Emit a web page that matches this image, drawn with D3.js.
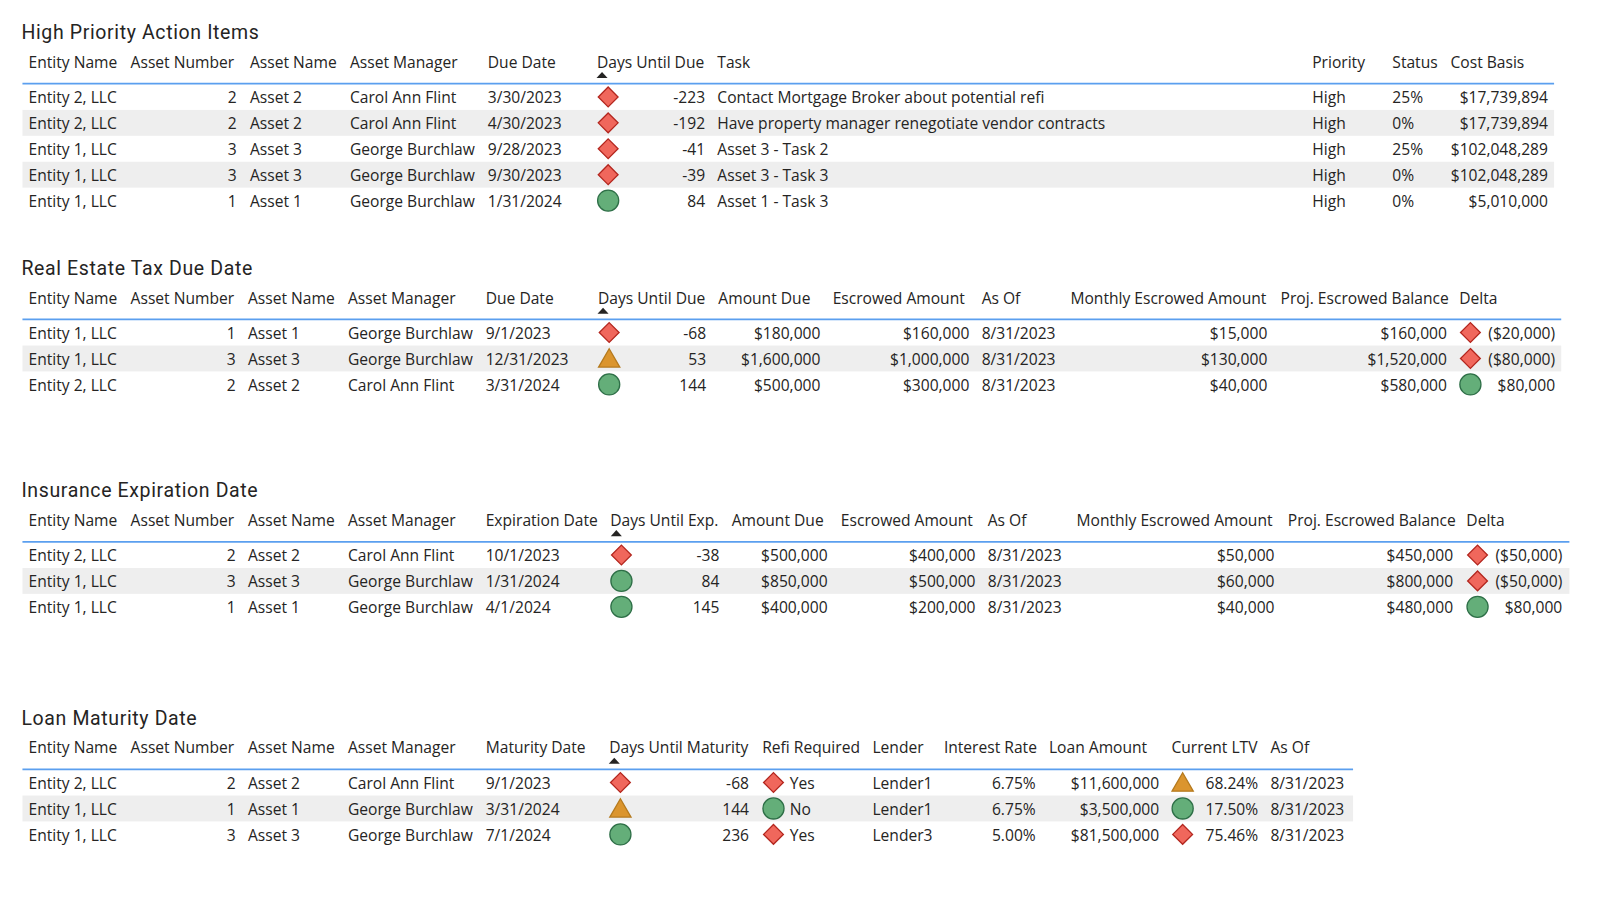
<!DOCTYPE html>
<html><head><meta charset="utf-8">
<script src="https://cdn.jsdelivr.net/npm/d3@7/dist/d3.min.js"></script>
<style>html,body{margin:0;background:#fff}svg{display:block}text{font-family:"Open Sans",sans-serif;fill:#252423}</style>
</head><body><svg id="c" width="1600" height="912"></svg>
<script>
// ---------- data ----------
const entities1 = ["Entity 2, LLC","Entity 2, LLC","Entity 1, LLC","Entity 1, LLC","Entity 1, LLC"];
const numbers1 = [2,2,3,3,1];
const assets1 = ["Asset 2","Asset 2","Asset 3","Asset 3","Asset 1"];
const managers1 = ["Carol Ann Flint","Carol Ann Flint","George Burchlaw","George Burchlaw","George Burchlaw"];
const dates1 = ["3/30/2023","4/30/2023","9/28/2023","9/30/2023","1/31/2024"];
const days1 = [-223,-192,-41,-39,84];
const dayIcons1 = ["d","d","d","d","c"];
const tasks1 = ["Contact Mortgage Broker about potential refi","Have property manager renegotiate vendor contracts","Asset 3 - Task 2","Asset 3 - Task 3","Asset 1 - Task 3"];
const priority1 = ["High","High","High","High","High"];
const status1 = ["25%","0%","25%","0%","0%"];
const costBasis1 = ["$17,739,894","$17,739,894","$102,048,289","$102,048,289","$5,010,000"];

const entities2 = ["Entity 1, LLC","Entity 1, LLC","Entity 2, LLC"];
const numbers2 = [1,3,2];
const assets2 = ["Asset 1","Asset 3","Asset 2"];
const managers2 = ["George Burchlaw","George Burchlaw","Carol Ann Flint"];
const dates2 = ["9/1/2023","12/31/2023","3/31/2024"];
const days2 = [-68,53,144];
const dayIcons2 = ["d","t","c"];
const due2 = ["$180,000","$1,600,000","$500,000"];
const escrowed2 = ["$160,000","$1,000,000","$300,000"];
const asOf2 = ["8/31/2023","8/31/2023","8/31/2023"];
const monthly2 = ["$15,000","$130,000","$40,000"];
const proj2 = ["$160,000","$1,520,000","$580,000"];
const deltaIcons2 = ["d","d","c"];
const delta2 = ["($20,000)","($80,000)","$80,000"];

const entities3 = ["Entity 2, LLC","Entity 1, LLC","Entity 1, LLC"];
const numbers3 = [2,3,1];
const assets3 = ["Asset 2","Asset 3","Asset 1"];
const managers3 = ["Carol Ann Flint","George Burchlaw","George Burchlaw"];
const dates3 = ["10/1/2023","1/31/2024","4/1/2024"];
const days3 = [-38,84,145];
const dayIcons3 = ["d","c","c"];
const due3 = ["$500,000","$850,000","$400,000"];
const escrowed3 = ["$400,000","$500,000","$200,000"];
const asOf3 = ["8/31/2023","8/31/2023","8/31/2023"];
const monthly3 = ["$50,000","$60,000","$40,000"];
const proj3 = ["$450,000","$800,000","$480,000"];
const deltaIcons3 = ["d","d","c"];
const delta3 = ["($50,000)","($50,000)","$80,000"];

const entities4 = ["Entity 2, LLC","Entity 1, LLC","Entity 1, LLC"];
const numbers4 = [2,1,3];
const assets4 = ["Asset 2","Asset 1","Asset 3"];
const managers4 = ["Carol Ann Flint","George Burchlaw","George Burchlaw"];
const dates4 = ["9/1/2023","3/31/2024","7/1/2024"];
const days4 = [-68,144,236];
const dayIcons4 = ["d","t","c"];
const refiIcons4 = ["d","c","d"];
const refi4 = ["Yes","No","Yes"];
const lender4 = ["Lender1","Lender1","Lender3"];
const rate4 = ["6.75%","6.75%","5.00%"];
const loan4 = ["$11,600,000","$3,500,000","$81,500,000"];
const ltvIcons4 = ["t","c","d"];
const ltv4 = ["68.24%","17.50%","75.46%"];
const asOf4 = ["8/31/2023","8/31/2023","8/31/2023"];

// ---------- layout (h: header x, v: value x, a: value anchor, m: marker x) ----------
const tables = [
 {title:"High Priority Action Items", titleY:31.5, headY:61.2, lineY:82, lineEnd:1523, rowTop:82.3, rowH:25.4, arrowX:590, cols:[
  {n:"Entity Name",h:28,v:28,d:entities1},{n:"Asset Number",h:128,v:232,a:"end",d:numbers1},{n:"Asset Name",h:245,v:245,d:assets1},
  {n:"Asset Manager",h:343,v:343,d:managers1},{n:"Due Date",h:478,v:478,d:dates1},
  {n:"Days Until Due",h:585,v:691,a:"end",d:days1,icons:dayIcons1,m:596},{n:"Task",h:703,v:703,d:tasks1},
  {n:"Priority",h:1286,v:1286,d:priority1},{n:"Status",h:1364.5,v:1364.5,d:status1},{n:"Cost Basis",h:1421.5,v:1517,a:"end",d:costBasis1}]},
 {title:"Real Estate Tax Due Date", titleY:262.5, headY:292.2, lineY:313, lineEnd:1530, rowTop:313.2, rowH:25.4, arrowX:591, cols:[
  {n:"Entity Name",h:28,v:28,d:entities2},{n:"Asset Number",h:128,v:231,a:"end",d:numbers2},{n:"Asset Name",h:243,v:243,d:assets2},
  {n:"Asset Manager",h:341,v:341,d:managers2},{n:"Due Date",h:476,v:476,d:dates2},
  {n:"Days Until Due",h:586,v:692,a:"end",d:days2,icons:dayIcons2,m:597},{n:"Amount Due",h:704,v:804,a:"end",d:due2},
  {n:"Escrowed Amount",h:816,v:950,a:"end",d:escrowed2},{n:"As Of",h:962,v:962,d:asOf2},
  {n:"Monthly Escrowed Amount",h:1049,v:1242,a:"end",d:monthly2},{n:"Proj. Escrowed Balance",h:1255,v:1418,a:"end",d:proj2},
  {n:"Delta",h:1430,v:1524,a:"end",d:delta2,icons:deltaIcons2,m:1441}]},
 {title:"Insurance Expiration Date", titleY:480.5, headY:510.2, lineY:531, lineEnd:1538, rowTop:531.2, rowH:25.4, arrowX:604, cols:[
  {n:"Entity Name",h:28,v:28,d:entities3},{n:"Asset Number",h:128,v:231,a:"end",d:numbers3},{n:"Asset Name",h:243,v:243,d:assets3},
  {n:"Asset Manager",h:341,v:341,d:managers3},{n:"Expiration Date",h:476,v:476,d:dates3},
  {n:"Days Until Exp.",h:598,v:705,a:"end",d:days3,icons:dayIcons3,m:609},{n:"Amount Due",h:717,v:811,a:"end",d:due3},
  {n:"Escrowed Amount",h:824,v:956,a:"end",d:escrowed3},{n:"As Of",h:968,v:968,d:asOf3},
  {n:"Monthly Escrowed Amount",h:1055,v:1249,a:"end",d:monthly3},{n:"Proj. Escrowed Balance",h:1262,v:1424,a:"end",d:proj3},
  {n:"Delta",h:1437,v:1531,a:"end",d:delta3,icons:deltaIcons3,m:1448}]},
 {title:"Loan Maturity Date", titleY:703.5, headY:732.2, lineY:754, lineEnd:1326, rowTop:754.2, rowH:25.4, arrowX:602, cols:[
  {n:"Entity Name",h:28,v:28,d:entities4},{n:"Asset Number",h:128,v:231,a:"end",d:numbers4},{n:"Asset Name",h:243,v:243,d:assets4},
  {n:"Asset Manager",h:341,v:341,d:managers4},{n:"Maturity Date",h:476,v:476,d:dates4},
  {n:"Days Until Maturity",h:597,v:734,a:"end",d:days4,icons:dayIcons4,m:608},
  {n:"Refi Required",h:747,v:774,d:refi4,icons:refiIcons4,m:758},{n:"Lender",h:855,v:855,d:lender4},
  {n:"Interest Rate",h:925,v:1015,a:"end",d:rate4},{n:"Loan Amount",h:1028,v:1136,a:"end",d:loan4},
  {n:"Current LTV",h:1148,v:1233,a:"end",d:ltv4,icons:ltvIcons4,m:1159},{n:"As Of",h:1245,v:1245,d:asOf4}]}
];
const x = d3.scaleLinear().domain([0,1568]).range([0,1600]);
const y = d3.scaleLinear().domain([0,893.76]).range([0,912]);
const svg = d3.select("#c");
const fs = 15.6;
const iconStyle = {
 d:{fill:"#F0675C",stroke:"#B3261E",type:d3.symbolDiamond2,size:250,dy:0},
 t:{fill:"#DB952E",stroke:"#B57A1E",type:d3.symbolTriangle,size:195,dy:2.5},
 c:{fill:"#64AE79",stroke:"#2E6F47",type:d3.symbolCircle,size:350,dy:0}
};
tables.forEach(t=>{
 const g = svg.append("g");
 g.append("text").attr("x",x(21)).attr("y",y(t.titleY)).attr("dy","0.35em")
  .style("font-family","Roboto").style("font-size","19.5px").style("letter-spacing","0.63px").style("font-weight",400).text(t.title);
 const n = t.cols[0].d.length;
 const band = d3.scaleBand().domain(d3.range(n)).range([y(t.rowTop),y(t.rowTop+n*t.rowH)]);
 g.selectAll("rect.s").data(d3.range(n).filter(i=>i%2==1)).join("rect").attr("class","s")
  .attr("x",x(22)).attr("width",x(t.lineEnd)-x(22)).attr("y",i=>band(i)).attr("height",band.bandwidth()).attr("fill","#EEEEEE");
 g.append("line").attr("x1",x(22)).attr("x2",x(t.lineEnd)).attr("y1",y(t.lineY)).attr("y2",y(t.lineY)).attr("stroke","#5B9FEF").attr("stroke-width",1.6);
 g.append("path").attr("d",d3.symbol(d3.symbolTriangle,34)())
  .attr("transform",`translate(${x(t.arrowX)},${y(t.lineY-7.5)}) scale(1.25,0.8)`).attr("fill","#252423");
 t.cols.forEach(c=>{
  g.append("text").attr("x",x(c.h)).attr("y",y(t.headY)).attr("dy","0.35em").style("font-size",fs+"px").text(c.n);
  c.d.forEach((v,i)=>{
   const cy = band(i)+band.bandwidth()/2;
   g.append("text").attr("x",x(c.v)).attr("y",cy+0.8).attr("dy","0.35em").attr("text-anchor",c.a||"start").style("font-size",fs+"px").text(v);
   if(c.icons){
    const s = iconStyle[c.icons[i]];
    g.append("path").attr("d",d3.symbol(s.type,s.size)()).attr("transform",`translate(${x(c.m)},${cy+s.dy})`)
     .attr("fill",s.fill).attr("stroke",s.stroke).attr("stroke-width",1.3);
   }
  });
 });
});
</script></body></html>
